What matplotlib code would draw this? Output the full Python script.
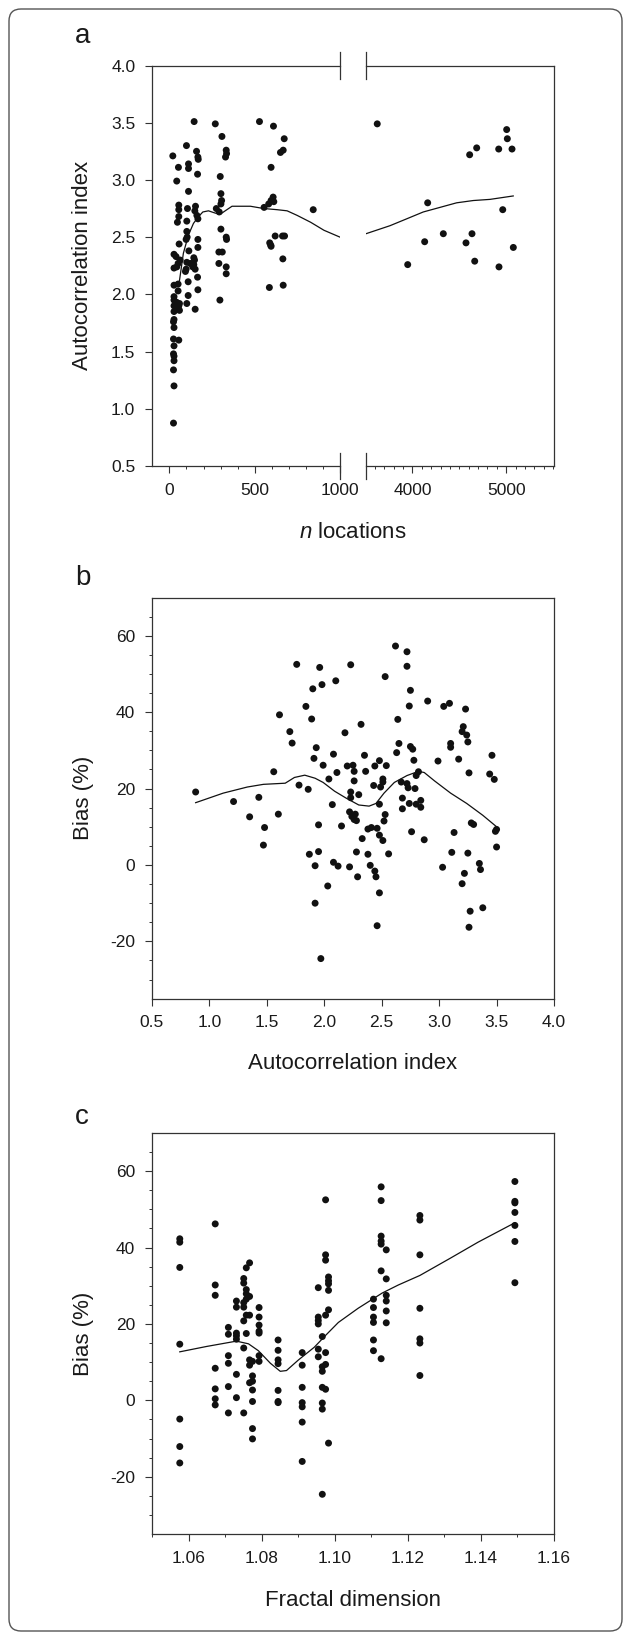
import matplotlib
matplotlib.use('Agg')
import numpy as np
import matplotlib.pyplot as plt
from matplotlib.patches import FancyBboxPatch
from matplotlib.ticker import FixedLocator, MultipleLocator, FormatStrFormatter

plt.rcParams['font.family'] = ['Liberation Sans', 'DejaVu Sans']
plt.rcParams['mathtext.fontset'] = 'custom'
plt.rcParams['mathtext.it'] = 'Liberation Sans:italic'
plt.rcParams['mathtext.rm'] = 'Liberation Sans'
plt.rcParams['axes.unicode_minus'] = False

# ---------------- data ----------------
# Panel a: number of locations vs autocorrelation index
n_locations = [145, 269, 528, 610, 308, 673, 100, 159, 167, 169, 333, 335, 329, 651, 667, 20, 53, 112, 112, 165,
               43, 298, 596, 112, 302, 306, 302, 55, 55, 55, 47, 106, 102, 153, 149, 161, 167, 275, 292, 555,
               582, 596, 608, 612, 843, 302, 333, 335, 620, 663, 675, 588, 596, 594, 665, 586, 667, 290, 310, 290,
               333, 333, 296, 102, 104, 98, 57, 27, 39, 63, 51, 27, 43, 114, 102, 122, 98, 94, 143, 147,
               143, 137, 151, 167, 167, 165, 167, 110, 110, 102, 151, 27, 51, 51, 27, 27, 43, 59, 27, 55,
               51, 59, 27, 27, 24, 27, 24, 55, 27, 24, 27, 27, 24, 27, 24,
               3624, 5005, 5012, 4685, 4610, 4920, 5062, 4162, 4963, 4329, 4635, 4130, 4571, 5076, 3949, 4664, 4923]
autocorr = [3.51, 3.49, 3.51, 3.47, 3.38, 3.36, 3.30, 3.25, 3.20, 3.18, 3.26, 3.23, 3.20, 3.24, 3.26, 3.21, 3.11, 3.14, 3.10, 3.05,
            2.99, 3.03, 3.11, 2.90, 2.88, 2.82, 2.79, 2.78, 2.74, 2.68, 2.63, 2.75, 2.64, 2.77, 2.73, 2.69, 2.66, 2.75, 2.72, 2.76,
            2.79, 2.82, 2.85, 2.81, 2.74, 2.57, 2.50, 2.48, 2.51, 2.51, 2.51, 2.45, 2.42, 2.43, 2.31, 2.06, 2.08, 2.37, 2.37, 2.27,
            2.24, 2.18, 1.95, 2.55, 2.50, 2.48, 2.44, 2.35, 2.33, 2.30, 2.27, 2.23, 2.24, 2.38, 2.28, 2.27, 2.22, 2.20, 2.32, 2.30,
            2.26, 2.24, 2.22, 2.48, 2.41, 2.15, 2.04, 2.11, 1.99, 1.92, 1.87, 2.08, 2.09, 2.03, 1.98, 1.95, 1.93, 1.92, 1.90, 1.90,
            1.88, 1.86, 1.85, 1.78, 1.76, 1.71, 1.61, 1.60, 1.55, 1.48, 1.46, 1.42, 1.34, 1.20, 0.875,
            3.49, 3.44, 3.36, 3.28, 3.22, 3.27, 3.27, 2.80, 2.74, 2.53, 2.53, 2.46, 2.45, 2.41, 2.26, 2.29, 2.24]
curve_a_n = [59, 82, 112, 141, 171, 196, 229, 269, 298, 327, 367, 406, 475, 553, 631, 690, 749, 828, 906, 1000,
             3504, 3760, 3938, 4115, 4293, 4471, 4649, 4827, 5075]
curve_a_aci = [2.12, 2.36, 2.52, 2.62, 2.68, 2.72, 2.73, 2.71, 2.70, 2.73, 2.77, 2.77, 2.77, 2.75, 2.74, 2.73, 2.69, 2.63, 2.56, 2.50,
               2.53, 2.60, 2.66, 2.72, 2.76, 2.80, 2.82, 2.83, 2.86]

# Panel b: autocorrelation index vs bias
aci_b = [0.88, 1.21, 1.35, 1.43, 1.48, 1.47, 1.56, 1.60, 1.61, 1.70, 1.72, 1.76, 1.78, 1.84, 1.86, 1.87, 1.89, 1.90, 1.91, 1.92,
         1.92, 1.93, 1.95, 1.95, 1.96, 1.97, 1.98, 1.99, 2.03, 2.04, 2.07, 2.08, 2.08, 2.10, 2.11, 2.12, 2.15, 2.18, 2.20, 2.22,
         2.23, 2.23, 2.22, 2.23, 2.24, 2.25, 2.26, 2.26, 2.26, 2.27, 2.28, 2.28, 2.29, 2.30, 2.32, 2.33, 2.35, 2.36, 2.38, 2.38,
         2.40, 2.41, 2.43, 2.44, 2.44, 2.45, 2.46, 2.46, 2.48, 2.48, 2.48, 2.48, 2.49, 2.51, 2.51, 2.51, 2.52, 2.53, 2.53, 2.54,
         2.56, 2.62, 2.63, 2.64, 2.65, 2.67, 2.68, 2.68, 2.72, 2.72, 2.72, 2.73, 2.74, 2.74, 2.75, 2.75, 2.76, 2.77, 2.78, 2.79,
         2.80, 2.80, 2.82, 2.84, 2.84, 2.87, 2.90, 2.99, 3.03, 3.04, 3.09, 3.10, 3.10, 3.11, 3.13, 3.17, 3.20, 3.20, 3.21, 3.22,
         3.23, 3.24, 3.25, 3.25, 3.26, 3.26, 3.27, 3.28, 3.30, 3.35, 3.36, 3.38, 3.44, 3.46, 3.48, 3.49, 3.50, 3.50]
bias_b = [19.1, 16.6, 12.6, 17.7, 9.8, 5.2, 24.4, 13.3, 39.3, 34.9, 31.9, 52.5, 20.9, 41.5, 19.8, 2.8, 38.2, 46.1, 27.9, -10.0,
          -0.2, 30.7, 3.5, 10.5, 51.7, -24.5, 47.2, 26.1, -5.5, 22.5, 15.8, 29.0, 0.7, 48.2, 24.2, -0.3, 10.2, 34.6, 25.9, -0.5,
          52.4, 19.1, 13.9, 17.6, 12.7, 26.1, 24.5, 22.0, 11.9, 13.3, 11.6, 3.4, -3.1, 18.4, 36.8, 6.9, 28.7, 24.5, 2.8, 9.4,
          -0.1, 9.8, 20.8, 25.9, -1.6, -3.1, 9.6, -15.9, -7.3, 15.9, 7.8, 27.3, 20.4, 22.5, 21.7, 6.4, 11.5, 13.2, 49.3, 26.0,
          2.9, 57.3, 29.4, 38.1, 31.8, 21.7, 14.7, 17.5, 52.0, 21.3, 55.8, 20.2, 41.6, 16.1, 31.0, 45.7, 8.7, 30.3, 27.4, 20.0,
          15.9, 23.4, 24.4, 16.9, 15.1, 6.6, 42.9, 27.2, -0.6, 41.5, 42.3, 30.8, 31.8, 3.3, 8.5, 27.7, 34.9, -4.9, 36.2, -2.2,
          40.8, 34.0, 32.2, 3.1, 24.1, -16.3, -12.1, 11.0, 10.6, 0.4, -1.2, -11.2, 23.8, 28.7, 22.4, 8.8, 4.7, 9.3]
curve_b_aci = [0.88, 1.12, 1.33, 1.47, 1.66, 1.74, 1.83, 1.92, 1.99, 2.09, 2.19, 2.30, 2.39, 2.45, 2.52, 2.61, 2.72, 2.82,
               2.87, 2.96, 3.10, 3.24, 3.38, 3.50]
curve_b_bias = [16.3, 18.8, 20.4, 21.1, 21.4, 22.9, 23.5, 22.7, 21.6, 19.3, 17.5, 15.7, 15.4, 16.1, 18.8, 21.6, 23.4, 24.5,
                24.2, 22.0, 18.8, 16.1, 13.0, 10.0]

# Panel c: fractal dimension vs bias
fractal_c = ([1.0576] * 7 + [1.0673] * 7 + [1.0709] * 6 + [1.0731] * 7 + [1.0751] * 7 + [1.0758] * 6 + [1.0767] * 6
             + [1.0775] * 7 + [1.0793] * 7 + [1.0845] * 7 + [1.0911] * 7 + [1.0955] * 6 + [1.0966] * 7 + [1.0975] * 7
             + [1.0983] * 6 + [1.1106] * 6 + [1.1127] * 7 + [1.1141] * 6 + [1.1233] * 7 + [1.1493] * 7)
bias_c = [42.3, 41.4, 34.8, 14.7, -4.9, -12.1, -16.4,
          46.2, 30.2, 27.5, 8.4, 3.0, 0.4, -1.2,
          19.1, 17.3, 11.7, 9.7, 3.6, -3.3,
          26.0, 24.4, 17.6, 16.9, 16.0, 6.8, 0.7,
          31.9, 30.7, 25.6, 24.4, 20.8, 13.7, -3.3,
          34.7, 29.0, 27.9, 26.5, 22.3, 17.5,
          36.0, 27.2, 22.3, 10.6, 9.2, 4.6,
          10.2, 6.4, 5.0, 2.7, -0.3, -7.4, -10.1,
          24.3, 21.8, 19.7, 18.1, 17.6, 11.7, 10.2,
          15.8, 13.1, 10.6, 9.6, 2.6, -0.3, -0.6,
          12.5, 9.2, 3.4, -0.6, -1.7, -5.7, -16.0,
          29.5, 21.8, 20.9, 20.0, 13.4, 11.4,
          16.7, 8.8, 7.6, 3.4, -0.7, -2.3, -24.6,
          52.5, 38.1, 36.7, 22.3, 12.5, 9.4, 2.9,
          32.3, 31.3, 30.5, 28.8, 23.7, -11.2,
          26.5, 24.3, 21.8, 20.4, 15.8, 13.0,
          55.9, 52.3, 43.0, 41.7, 40.9, 33.9, 10.9,
          39.4, 31.8, 27.5, 26.0, 23.4, 20.3,
          48.4, 47.2, 38.1, 24.1, 16.1, 15.0, 6.5,
          57.3, 52.1, 51.7, 49.2, 45.8, 41.6, 30.8]
curve_c_fd = [1.0576, 1.0649, 1.0731, 1.0764, 1.0791, 1.0824, 1.0851, 1.0868, 1.0901, 1.0944, 1.0977, 1.1010, 1.1064,
              1.1130, 1.1174, 1.1233, 1.1316, 1.1392, 1.1493]
curve_c_bias = [12.7, 14.1, 15.5, 14.8, 13.0, 9.7, 7.6, 7.8, 10.6, 13.9, 17.2, 20.4, 24.1, 28.1, 30.2, 32.7, 37.2, 41.4, 46.5]

# ---------------- figure ----------------
W, H = 625, 1638
fig = plt.figure(figsize=(W / 100, H / 100), dpi=100)
fig.patch.set_facecolor('white')

SPINE = '#333333'
TXT = '#1a1a1a'
DOT = 25
DOTC = '#111111'
LW = 0.9
TICK_FS = 12.5
LAB_FS = 16


def rect(l, t, r, b):
    return [l / W, 1 - b / H, (r - l) / W, (b - t) / H]


def style(ax, xpad=7, ypad=7):
    for s in ax.spines.values():
        s.set_color(SPINE)
        s.set_linewidth(0.9)
    ax.tick_params(axis='both', which='major', direction='out', length=5, width=0.8, color=SPINE,
                   labelsize=TICK_FS, labelcolor=TXT)
    ax.tick_params(axis='both', which='minor', direction='out', length=2.5, width=0.7, color=SPINE)
    ax.tick_params(axis='x', pad=xpad)
    ax.tick_params(axis='y', pad=ypad)


# ---- Panel a (broken x axis) ----
n_arr = np.array(n_locations)
a_arr = np.array(autocorr)
cn = np.array(curve_a_n)
ca = np.array(curve_a_aci)

axL = fig.add_axes(rect(152, 65.5, 340, 466))
axR = fig.add_axes(rect(366, 65.5, 554, 466))
for ax in (axL, axR):
    style(ax)
    ax.set_ylim(0.5, 4.0)
axL.set_xlim(-102, 1000)
axR.set_xlim(3504, 5510)

mL = n_arr <= 1000
axL.scatter(n_arr[mL], a_arr[mL], s=DOT, c=DOTC, edgecolors='none', zorder=3)
axR.scatter(n_arr[~mL], a_arr[~mL], s=DOT, c=DOTC, edgecolors='none', zorder=3)
cL = cn <= 1000
axL.plot(cn[cL], ca[cL], color=DOTC, lw=LW, zorder=2)
axR.plot(cn[~cL], ca[~cL], color=DOTC, lw=LW, zorder=2)

axL.spines['right'].set_visible(False)
axR.spines['left'].set_visible(False)
axR.tick_params(axis='y', which='both', left=False, labelleft=False)
axL.xaxis.set_major_locator(FixedLocator([0, 500, 1000]))
axL.xaxis.set_minor_locator(FixedLocator([100, 200, 300, 400, 600, 700, 800, 900]))
axR.xaxis.set_major_locator(FixedLocator([4000, 5000]))
axR.xaxis.set_minor_locator(FixedLocator([v for v in range(3600, 5600, 100) if v not in (4000, 5000)]))
axL.yaxis.set_major_locator(MultipleLocator(0.5))
axL.yaxis.set_major_formatter(FormatStrFormatter('%.1f'))
axL.set_ylabel('Autocorrelation index', fontsize=LAB_FS, color=TXT)
axL.yaxis.label.set_rotation_mode('default')
axL.yaxis.label.set_va('center')
axL.yaxis.set_label_coords((83 - 152) / 188, 0.5)

# break marks
hb = 13 / 400.5
for ax, xa in ((axL, 1.0), (axR, 0.0)):
    for y0 in (0.0, 1.0):
        ax.plot([xa, xa], [y0 - hb, y0 + hb], transform=ax.transAxes, color=SPINE, lw=0.9,
                clip_on=False, zorder=5)

fig.text(353 / W, 1 - 532 / H, r'$\mathit{n}$ locations', ha='center', va='center', fontsize=LAB_FS, color=TXT)

# ---- Panel b ----
axb = fig.add_axes(rect(152, 597.5, 554, 998.7))
style(axb)
axb.scatter(aci_b, bias_b, s=DOT, c=DOTC, edgecolors='none', zorder=3)
axb.plot(curve_b_aci, curve_b_bias, color=DOTC, lw=LW, zorder=2)
axb.set_xlim(0.5, 4.0)
axb.set_ylim(-35, 70)
axb.xaxis.set_major_locator(MultipleLocator(0.5))
axb.xaxis.set_major_formatter(FormatStrFormatter('%.1f'))
axb.yaxis.set_major_locator(FixedLocator([-20, 0, 20, 40, 60]))
axb.yaxis.set_minor_locator(FixedLocator([v for v in range(-30, 70, 5) if v % 20 != 0]))
axb.set_xlabel('Autocorrelation index', fontsize=LAB_FS, color=TXT)
axb.xaxis.label.set_va('center')
axb.xaxis.set_label_coords(0.5, -(1063.4 - 998.7) / 401.2)
axb.set_ylabel('Bias (%)', fontsize=LAB_FS, color=TXT)
axb.yaxis.label.set_rotation_mode('default')
axb.yaxis.label.set_va('center')
axb.yaxis.set_label_coords((84 - 152) / 402, 0.5)

# ---- Panel c ----
axc = fig.add_axes(rect(152, 1133, 554, 1534))
style(axc)
axc.scatter(fractal_c, bias_c, s=DOT, c=DOTC, edgecolors='none', zorder=3)
axc.plot(curve_c_fd, curve_c_bias, color=DOTC, lw=LW, zorder=2)
axc.set_xlim(1.05, 1.16)
axc.set_ylim(-35, 70)
axc.xaxis.set_major_locator(FixedLocator([1.06, 1.08, 1.10, 1.12, 1.14, 1.16]))
axc.xaxis.set_minor_locator(FixedLocator([1.05, 1.07, 1.09, 1.11, 1.13, 1.15]))
axc.xaxis.set_major_formatter(FormatStrFormatter('%.2f'))
axc.yaxis.set_major_locator(FixedLocator([-20, 0, 20, 40, 60]))
axc.yaxis.set_minor_locator(FixedLocator([v for v in range(-30, 70, 5) if v % 20 != 0]))
axc.set_xlabel('Fractal dimension', fontsize=LAB_FS, color=TXT)
axc.xaxis.label.set_va('center')
axc.xaxis.set_label_coords(0.5, -(1600.3 - 1534) / 401)
axc.set_ylabel('Bias (%)', fontsize=LAB_FS, color=TXT)
axc.yaxis.label.set_rotation_mode('default')
axc.yaxis.label.set_va('center')
axc.yaxis.set_label_coords((84 - 152) / 402, 0.5)

# panel letters
for letter, yc in (('a', 35.7), ('b', 577.9), ('c', 1117.4)):
    fig.text(75 / W, 1 - yc / H, letter, ha='left', va='center', fontsize=20, color=TXT)

# outer rounded frame
frame = FancyBboxPatch((0.09, 0.07), 6.13, 16.22, boxstyle='round,pad=0,rounding_size=0.12',
                       transform=fig.dpi_scale_trans, fill=False, edgecolor='#555555', linewidth=1.0)
fig.add_artist(frame)

fig.savefig('out.png', dpi=100)
